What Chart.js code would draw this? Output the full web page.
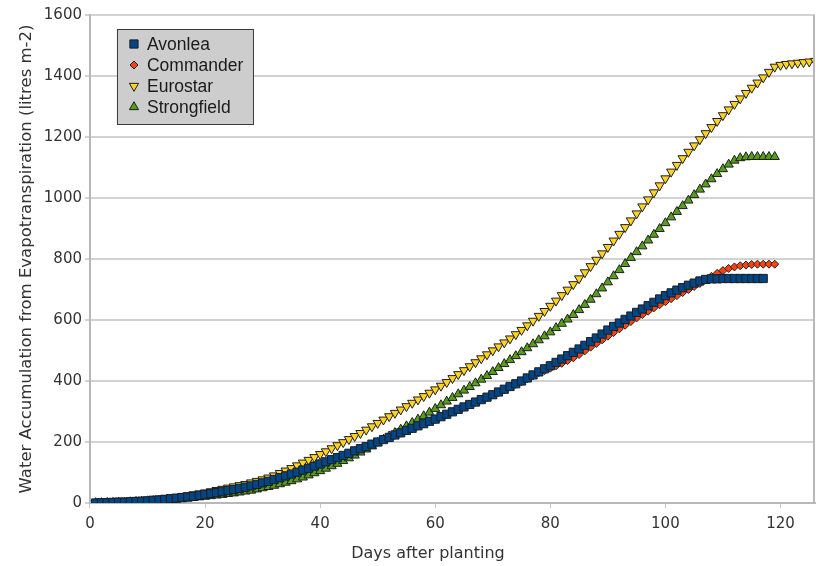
<!DOCTYPE html>
<html>
<head>
<meta charset="utf-8">
<script src="https://cdn.jsdelivr.net/npm/chart.js@4/dist/chart.umd.min.js"></script>
<style>
  html, body { margin: 0; padding: 0; background: #fff; }
  canvas { display: block; }
</style>
</head>
<body>
<canvas id="grafico" width="816" height="566"></canvas>
<script>
// valores diarios (dia 1 em diante)
const avonlea = [
    0, 1, 1, 2, 3, 3, 4, 5, 6, 7,
    9, 10, 12, 14, 16, 18, 20, 22, 25, 28,
    31, 34, 37, 41, 44, 48, 52, 56, 61, 66,
    71, 77, 83, 89, 95, 101, 108, 114, 121, 128,
    135, 142, 149, 156, 163, 171, 178, 185, 193, 200,
    208, 215, 223, 230, 238, 245, 253, 260, 268, 275,
    283, 291, 299, 307, 315, 323, 331, 339, 347, 355,
    364, 373, 382, 391, 400, 410, 420, 430, 440, 450,
    461, 472, 483, 494, 505, 517, 529, 541, 554, 567,
    579, 590, 602, 613, 625, 636, 647, 658, 669, 680,
    689, 698, 706, 714, 721, 728, 733, 735, 735, 736,
    736, 736, 736, 736, 736, 736, 736
];
const commander = [
    0, 1, 1, 2, 2, 3, 4, 5, 6, 7,
    8, 10, 11, 13, 15, 17, 19, 22, 24, 27,
    30, 33, 36, 40, 43, 47, 51, 55, 60, 65,
    70, 76, 82, 88, 94, 100, 107, 113, 120, 127,
    134, 141, 148, 155, 162, 170, 177, 184, 192, 199,
    207, 214, 222, 229, 237, 244, 252, 259, 267, 274,
    282, 290, 298, 306, 314, 322, 330, 338, 346, 354,
    362, 371, 380, 389, 398, 407, 417, 427, 434, 442,
    450, 458, 467, 476, 487, 499, 511, 523, 535, 547,
    559, 571, 583, 595, 607, 618, 629, 640, 650, 660,
    670, 680, 690, 700, 710, 720, 731, 743, 753, 762,
    769, 774, 778, 780, 782, 783, 783, 783, 783
];
const eurostar = [
    0, 1, 2, 3, 4, 5, 6, 7, 8, 9,
    11, 13, 15, 17, 19, 22, 25, 28, 31, 34,
    38, 42, 46, 50, 54, 58, 62, 67, 72, 77,
    83, 90, 98, 106, 114, 123, 132, 141, 150, 160,
    169, 179, 189, 199, 209, 219, 229, 240, 251, 262,
    273, 284, 295, 306, 317, 328, 339, 350, 361, 372,
    384, 396, 409, 422, 435, 448, 461, 474, 487, 500,
    513, 526, 539, 553, 567, 582, 597, 613, 629, 646,
    663, 681, 699, 717, 736, 756, 776, 797, 818, 839,
    860, 882, 904, 926, 949, 972, 995, 1018, 1041, 1064,
    1086, 1108, 1130, 1151, 1172, 1192, 1212, 1232, 1252, 1271,
    1290, 1308, 1326, 1344, 1361, 1378, 1395, 1413, 1430, 1436,
    1439, 1441, 1443, 1445, 1447, 1449
];
const strongfield = [
    0, 0, 1, 1, 2, 2, 3, 4, 5, 6,
    7, 8, 9, 10, 12, 13, 15, 17, 19, 21,
    23, 25, 27, 30, 32, 35, 38, 41, 45, 49,
    53, 57, 62, 67, 72, 78, 84, 91, 98, 105,
    113, 121, 129, 138, 147, 156, 166, 176, 186, 197,
    208, 219, 230, 241, 252, 263, 274, 285, 297, 309,
    321, 333, 345, 357, 369, 381, 393, 405, 417, 430,
    443, 456, 469, 482, 495, 508, 521, 534, 547, 560,
    574, 588, 602, 617, 633, 650, 667, 685, 704, 724,
    744, 764, 784, 804, 823, 842, 861, 880, 899, 918,
    937, 955, 974, 992, 1010, 1028, 1045, 1062, 1079, 1095,
    1110, 1123, 1131, 1134, 1135, 1135, 1135, 1135, 1135
];

const nomes = ['Avonlea', 'Commander', 'Eurostar', 'Strongfield'];
const cores = ['#004586', '#ff420e', '#ffd320', '#579d1c'];
const tituloX = 'Days after planting';

// dia 1, 2, 3 ... para cada valor
function pontos(lista) {
    return lista.map(function (v, i) { return { x: i + 1, y: v }; });
}

// moldura da direita, titulo do eixo x e legenda dentro da area do grafico
const legendaCaixa = {
    id: 'legendaCaixa',
    afterDraw(chart) {
        const ctx = chart.ctx;
        const a = chart.chartArea;
        ctx.save();
        ctx.strokeStyle = '#b8b8b8';
        ctx.lineWidth = 2;
        ctx.beginPath();
        ctx.moveTo(a.right - 1, a.top);
        ctx.lineTo(a.right - 1, a.bottom);
        ctx.stroke();

        // titulo do eixo x (no original fica centrado um pouco a esquerda)
        ctx.font = '16px "DejaVu Sans"';
        ctx.fillStyle = '#333';
        ctx.textAlign = 'center';
        ctx.textBaseline = 'middle';
        ctx.fillText(tituloX, chart.width / 2 + 20, a.bottom + 51);

        const lx = a.left + 27;
        const ly = a.top + 14;
        ctx.fillStyle = '#cdcdcd';
        ctx.fillRect(lx, ly, 137, 96);
        ctx.strokeStyle = '#3a3a3a';
        ctx.lineWidth = 1;
        ctx.strokeRect(lx + 0.5, ly + 0.5, 136, 95);

        ctx.font = '17.5px "Liberation Sans", Arial, sans-serif';
        ctx.textBaseline = 'middle';
        ctx.textAlign = 'left';
        chart.data.datasets.forEach(function (ds, i) {
            const y = ly + 15 + i * 21;
            ctx.fillStyle = ds.pointBackgroundColor;
            ctx.strokeStyle = ds.pointBorderColor;
            ctx.lineWidth = 1;
            Chart.helpers.drawPoint(ctx, {
                pointStyle: ds.pointStyle,
                radius: ds.pointRadius,
                rotation: ds.pointRotation || 0,
                borderWidth: 1
            }, lx + 17, y);
            ctx.fillStyle = '#1a1a1a';
            ctx.fillText(ds.label, lx + 30, y + 1);
        });
        ctx.restore();
    }
};

function serie(i, lista, estilo, raio, rotacao) {
    return {
        label: nomes[i],
        data: pontos(lista),
        showLine: false,
        pointStyle: estilo,
        pointRadius: raio,
        pointHoverRadius: raio,
        pointRotation: rotacao,
        pointBackgroundColor: cores[i],
        pointBorderColor: '#1e1e1e',
        pointBorderWidth: 1,
        backgroundColor: cores[i],
        borderColor: '#1e1e1e'
    };
}

new Chart(document.getElementById('grafico'), {
    type: 'scatter',
    data: {
        datasets: [
            serie(0, avonlea, 'rect', 5.8, 0),
            serie(1, commander, 'rectRot', 4, 0),
            serie(2, eurostar, 'triangle', 5.3, 180),
            serie(3, strongfield, 'triangle', 5.3, 0)
        ]
    },
    options: {
        responsive: false,
        animation: false,
        layout: {
            autoPadding: false,
            padding: { top: 15, right: 1, left: 10, bottom: 26 }
        },
        plugins: {
            legend: { display: false },
            tooltip: { enabled: false }
        },
        scales: {
            x: {
                type: 'linear',
                min: 0,
                max: 126,
                border: { display: true, color: '#b8b8b8', width: 2 },
                grid: { drawOnChartArea: false, drawTicks: true, tickLength: 5, color: '#c8c8c8' },
                ticks: {
                    stepSize: 20,
                    includeBounds: false,
                    padding: 7,
                    color: '#333',
                    font: { family: 'DejaVu Sans', size: 15 },
                    callback: function (v) { return String(v); }
                },
                title: { display: false }
            },
            y: {
                min: 0,
                max: 1600,
                border: { display: true, color: '#b8b8b8', width: 2 },
                grid: { color: '#d2d2d2', lineWidth: 2, tickLength: 5 },
                ticks: {
                    stepSize: 200,
                    padding: 3,
                    color: '#333',
                    font: { family: 'DejaVu Sans', size: 15 },
                    callback: function (v) { return String(v); }
                },
                title: {
                    display: true,
                    text: 'Water Accumulation from Evapotranspiration (litres m-2)',
                    color: '#333',
                    padding: { top: 7, bottom: 4 },
                    font: { family: 'DejaVu Sans', size: 16.5 }
                }
            }
        }
    },
    plugins: [legendaCaixa]
});
</script>
</body>
</html>
